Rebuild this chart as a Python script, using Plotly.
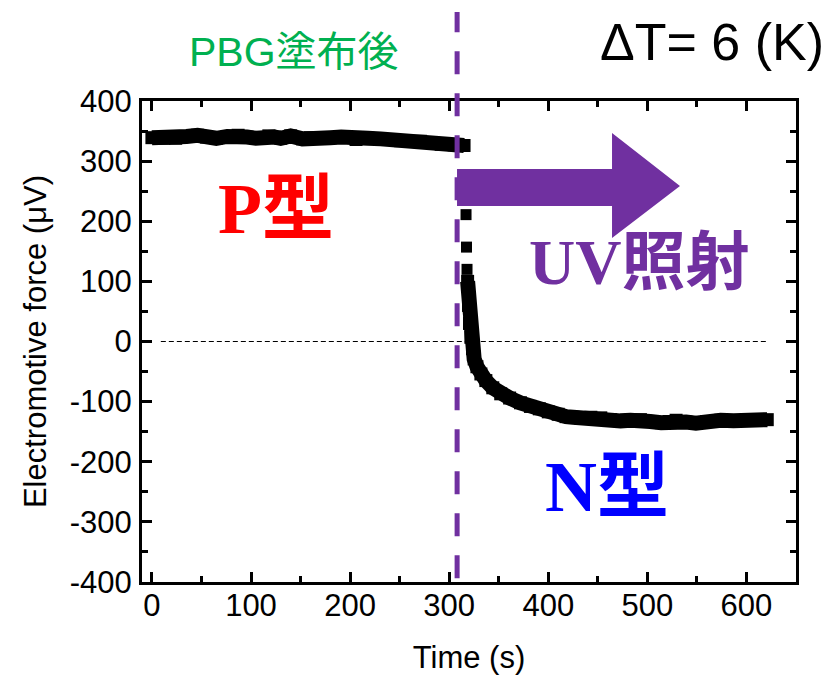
import plotly.graph_objects as go

# Segment before UV (P-type)
t_before = [0, 12, 24, 35, 46, 55, 65, 76, 87, 96, 105, 118, 124, 130, 140, 152, 160, 168,
            180, 191, 206, 218, 231, 251, 271, 283, 292, 305, 315]
v_before = [339, 338, 338, 341, 343, 340, 338, 341, 343, 340, 338, 342, 340, 338, 342, 337, 339, 338,
            339, 340, 336, 338, 337, 334, 333, 331, 328, 327, 326]

# Isolated points during the fast drop
t_jump = [317, 317.5, 318]
v_jump = [211, 157, 120]

# Segment after UV (N-type)
t_after = [318.6, 319.5, 320.5, 321.9, 323.5, 325.2, 328, 332, 337, 344, 352, 361, 372, 382, 391,
           400, 410, 418, 425, 433, 443, 453, 463, 473, 483, 493, 503, 514, 522, 529, 539, 549,
           560, 574, 587, 599, 610, 621]
v_after = [100, 60, 30, 7, -12, -29, -42, -54, -65, -77, -87, -94, -102, -108, -112,
           -117, -121, -125, -126, -128, -126, -127, -130, -132, -131, -130, -133, -135, -133, -131, -134, -136,
           -133, -131, -132, -131, -130, -130]

x_ticks = [0, 100, 200, 300, 400, 500, 600]
y_ticks = [-400, -300, -200, -100, 0, 100, 200, 300, 400]
uv_time = 308
zero_line_x = [9, 620]

fig = go.Figure()
fig.add_trace(go.Scatter(x=t_before, y=v_before, mode="lines+markers",
                         line=dict(color="black", width=15),
                         marker=dict(symbol="square", size=13, color="black"),
                         showlegend=False))
fig.add_trace(go.Scatter(x=t_jump, y=v_jump, mode="markers",
                         marker=dict(symbol="square", size=11, color="black"),
                         showlegend=False))
fig.add_trace(go.Scatter(x=t_after, y=v_after, mode="lines+markers",
                         line=dict(color="black", width=15),
                         marker=dict(symbol="square", size=13, color="black"),
                         showlegend=False))

# zero reference dashed line
fig.add_shape(type="line", xref="x", yref="y", x0=zero_line_x[0], x1=zero_line_x[1], y0=0, y1=0,
              line=dict(color="black", width=1, dash="5px,3px"), layer="below")
# UV on vertical dashed line
fig.add_shape(type="line", xref="x", yref="paper", x0=uv_time, x1=uv_time, y0=0.008, y1=1.185,
              line=dict(color="#7030A0", width=5, dash="23px,19px"), layer="above")
# purple arrow
arrow_pts = [(0.4817, 0.8585), (0.7187, 0.8585), (0.7187, 0.9335), (0.8226, 0.8233),
             (0.7187, 0.7152), (0.7187, 0.7818), (0.4817, 0.7818)]
path = "M " + " L ".join(f"{x},{y}" for x, y in arrow_pts) + " Z"
fig.add_shape(type="path", xref="paper", yref="paper", path=path,
              fillcolor="#7030A0", line=dict(width=0), layer="above")

serif = "Liberation Serif, Times New Roman, Noto Sans CJK JP"
ann = [
    dict(text="ΔT= 6 (K)", x=0.872, y=1.1227, font=dict(family="Liberation Sans, Arial", size=52, color="black")),
    dict(text="PBG塗布後", x=0.232, y=1.102, font=dict(family="Liberation Sans, Arial, Noto Sans CJK JP", size=41, color="#00B050")),
    dict(text="<b>P型</b>", x=0.205, y=0.775, font=dict(family=serif, size=72, color="#FF0000")),
    dict(text="<b>UV照射</b>", x=0.760, y=0.665, font=dict(family=serif, size=64, color="#7030A0")),
    dict(text="<b>N型</b>", x=0.711, y=0.198, font=dict(family=serif, size=72, color="#0000FF")),
]
for a in ann:
    fig.add_annotation(xref="paper", yref="paper", showarrow=False, xanchor="center", yanchor="middle", **a)

axis_common = dict(showline=True, linewidth=3, linecolor="black", mirror="ticks",
                   ticks="inside", ticklen=10, tickwidth=3, tickcolor="black",
                   showgrid=False, zeroline=False, automargin=False,
                   tickfont=dict(family="Liberation Sans, Arial", size=31, color="black"),
                   minor=dict(ticks="inside", ticklen=6, tickwidth=3, tickcolor="black", dtick=50))

fig.update_xaxes(range=[-10, 650], tickvals=x_ticks, ticktext=[str(v) for v in x_ticks],
                 title=dict(text="Time (s)", font=dict(family="Liberation Sans, Arial", size=31, color="black"), standoff=26),
                 ticklabelstandoff=-6, **axis_common)
fig.update_yaxes(range=[-400, 400], tickvals=y_ticks, ticktext=[str(v) for v in y_ticks],
                 title=dict(text="Electromotive force (μV)", font=dict(family="Liberation Sans, Arial", size=31, color="black"), standoff=14),
                 ticklabelstandoff=1, **axis_common)

fig.update_layout(width=829, height=675, margin=dict(l=142, r=33, t=101, b=93),
                  paper_bgcolor="white", plot_bgcolor="white")

fig.write_html("out.html")
